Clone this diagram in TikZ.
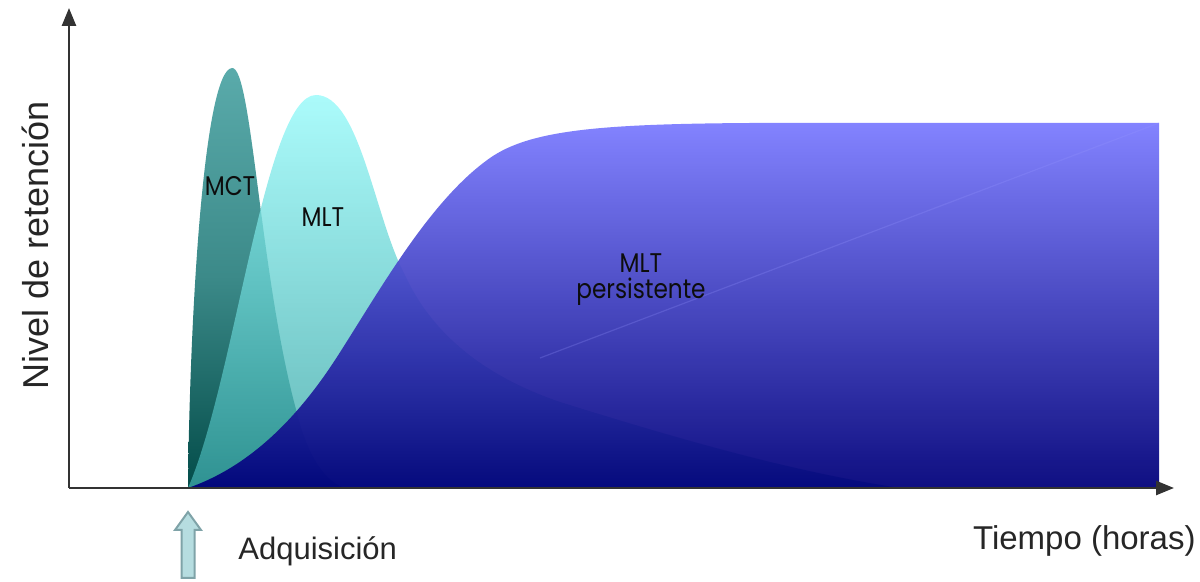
\documentclass[tikz,border=0pt]{standalone}
\usepackage{fontspec}
\setmainfont{Liberation Sans}
\newfontfamily\lblfont{Poppins}
\usetikzlibrary{arrows.meta}
\definecolor{axisgray}{HTML}{333333}
\definecolor{mcttop}{HTML}{5AABAB}
\definecolor{mctbot}{HTML}{034C49}
\definecolor{mlttop}{HTML}{96FAFA}
\definecolor{mltbot}{HTML}{3AA4A4}
\definecolor{bluetop}{HTML}{7B7BFF}
\definecolor{bluemid}{HTML}{2E2EE0}
\definecolor{bluebot}{HTML}{00007A}
\definecolor{arrfill}{HTML}{B6DDE0}
\definecolor{arrline}{HTML}{7FA3A8}
\tikzset{
  axisline/.style={draw=axisgray, line width=1.3pt, -{Triangle[length=9pt,width=7pt]}},
  axislabel/.style={font=\fontsize{15.5}{18}\selectfont, text=black!85, inner sep=0pt},
  curvelabel/.style={font=\lblfont\fontsize{13.5}{15}\selectfont, text=black!95, inner sep=0pt, align=center, xscale=0.86},
}
\begin{document}
\begin{tikzpicture}[x=0.5pt, y=-0.5pt]
\useasboundingbox (0,0) rectangle (1200,582);
% named points
\coordinate (O) at (69,488);
\coordinate (Ytop) at (69,8);
\coordinate (Xend) at (1174,488);
% MCT curve
\path[top color=mcttop, bottom color=mctbot, middle color=mcttop!65!mctbot]
  (188,488) .. controls (190,300) and (205,70) .. (232,68)
  .. controls (252,66) and (260,280) .. (297,413)
  .. controls (305,445) and (320,480) .. (345,488) -- cycle;
% MLT curve
\path[top color=mlttop, bottom color=mltbot, fill opacity=0.8]
  (188,488) .. controls (235,380) and (265,95) .. (316,95)
  .. controls (360,95) and (375,220) .. (405,275)
  .. controls (430,330) and (480,375) .. (560,402)
  .. controls (650,430) and (780,470) .. (900,488) -- cycle;
% persistent MLT
\path[top color=bluetop, middle color=bluemid, bottom color=bluebot, fill opacity=0.94]
  (188,488) .. controls (240,470) and (290,430) .. (337,357)
  .. controls (380,290) and (430,200) .. (490,158)
  .. controls (530,130) and (600,124) .. (750,123)
  -- (1159,123) -- (1159,488) -- cycle;
\draw[bluetop!80!white, opacity=0.25, line width=0.6pt] (540,358) -- (1159,123);
% axes
\draw[axisline] (O) -- (Ytop);
\draw[axisline] (O) -- (Xend);
% labels
\node[curvelabel] (mct) at (230,186) {MCT};
\node[curvelabel] (mlt) at (323,217) {MLT};
\node[curvelabel] (mltp) at (641,280) {MLT\\[-2pt]persistente};
\node[axislabel, rotate=90, font=\fontsize{18}{20}\selectfont] (ylab) at (35,245) {Nivel de retención};
\node[axislabel, anchor=west] (acq) at (238,551) {Adquisición};
\node[axislabel, anchor=east, font=\fontsize{16.5}{19}\selectfont] (time) at (1196,541) {Tiempo (horas)};
% acquisition arrow
\draw[fill=arrfill, draw=arrline, line width=1pt, line join=miter]
  (188,512) -- (201,530) -- (194.5,530) -- (194.5,578) -- (181.5,578) -- (181.5,530) -- (175,530) -- cycle;
\end{tikzpicture}
\end{document}
